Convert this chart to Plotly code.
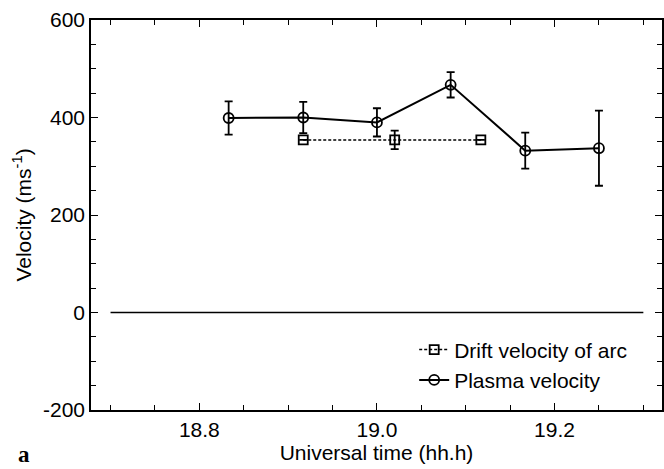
import plotly.graph_objects as go

# Plasma velocity (circles, solid line)
plasma_t = [18.833, 18.917, 19.000, 19.083, 19.167, 19.250]
plasma_v = [399, 400, 390, 467, 332, 337]
plasma_err = [34, 32, 29, 26, 37, 77]

# Drift velocity of arc (squares, dashed line)
drift_t = [18.917, 19.020, 19.117]
drift_v = [354, 354, 354]
drift_err = [0, 19, 0]

# Zero reference line
zero_t = [18.70, 19.30]
zero_v = [0, 0]

x_ticks = [18.8, 19.0, 19.2]
x_ticklabels = ["18.8", "19.0", "19.2"]
y_ticks = [-200, 0, 200, 400, 600]
y_ticklabels = ["-200", "0", "200", "400", "600"]

FONT = "Liberation Sans, Arial, Helvetica, sans-serif"
FS = 21

fig = go.Figure()

fig.add_trace(go.Scatter(
    x=zero_t, y=zero_v, mode="lines",
    line=dict(color="black", width=1.5),
    showlegend=False, hoverinfo="skip",
))

fig.add_trace(go.Scatter(
    x=drift_t, y=drift_v, mode="lines+markers",
    name="Drift velocity of arc",
    line=dict(color="black", width=1.5, dash="3px,2px"),
    marker=dict(symbol="square-open", size=9, color="black", line=dict(width=1.8)),
    error_y=dict(type="data", array=drift_err, visible=True, color="black",
                 thickness=1.8, width=4),
))

fig.add_trace(go.Scatter(
    x=plasma_t, y=plasma_v, mode="lines+markers",
    name="Plasma velocity",
    line=dict(color="black", width=2),
    marker=dict(symbol="circle-open", size=10, color="black", line=dict(width=1.8)),
    error_y=dict(type="data", array=plasma_err, visible=True, color="black",
                 thickness=1.8, width=4),
))

axis_common = dict(
    showline=True, linecolor="black", linewidth=1.5, mirror="allticks",
    ticks="inside", ticklen=7, tickwidth=1.3, tickcolor="black",
    showgrid=False, zeroline=False, automargin=False,
    tickfont=dict(family=FONT, size=FS, color="black"),
)

fig.update_xaxes(
    range=[18.678, 19.321],
    tickvals=x_ticks, ticktext=x_ticklabels,
    minor=dict(dtick=0.05, tick0=18.7, ticks="inside", ticklen=5, tickwidth=1.2, tickcolor="black"),
    title=dict(text="Universal time (hh.h)", font=dict(family=FONT, size=FS, color="black"), standoff=4),
    **axis_common,
)
fig.update_yaxes(
    range=[-200, 600],
    tickvals=y_ticks, ticktext=y_ticklabels,
    minor=dict(dtick=50, tick0=0, ticks="inside", ticklen=5, tickwidth=1.2, tickcolor="black"),
    title=dict(text="Velocity (ms<sup>-1</sup>)", font=dict(family=FONT, size=FS, color="black"), standoff=6),
    **axis_common,
)

fig.add_annotation(
    text="<b>a</b>", xref="paper", yref="paper", x=-0.131, y=-0.113,
    xanchor="left", yanchor="middle", showarrow=False,
    font=dict(family="Liberation Serif, DejaVu Serif, serif", size=23, color="black"),
)

fig.update_layout(
    width=664, height=469,
    margin=dict(l=91, r=2, t=20, b=59),
    plot_bgcolor="white", paper_bgcolor="white",
    font=dict(family=FONT, size=FS, color="black"),
    legend=dict(
        x=0.566, y=0.2065, xanchor="left", yanchor="top",
        bgcolor="rgba(0,0,0,0)", borderwidth=0,
        font=dict(family=FONT, size=FS, color="black"),
        tracegroupgap=0, itemwidth=30,
    ),
)

fig.write_html(
    "out.html",
    config={"displayModeBar": False},
    post_script="document.body.style.margin='0';document.body.style.padding='0';",
)
